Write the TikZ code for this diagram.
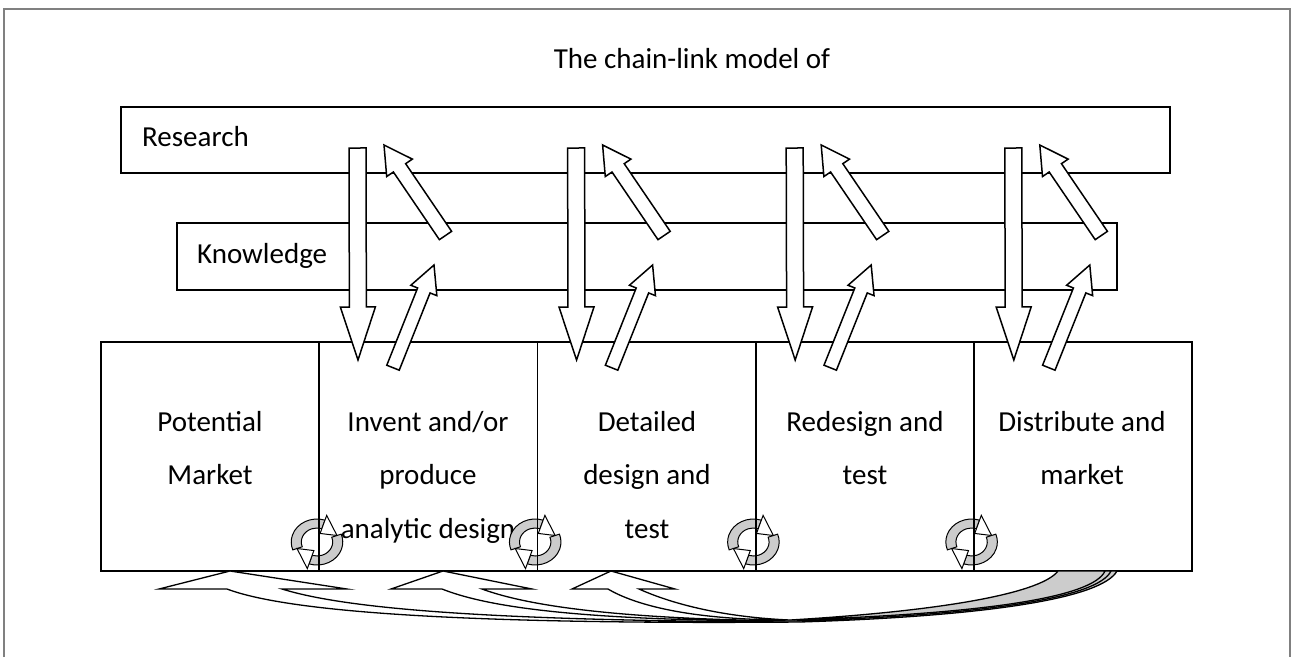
\documentclass[tikz,border=0pt]{standalone}
\usepackage{fontspec}
\setmainfont{Carlito}
\usetikzlibrary{calc}
\newcommand\blockarrow[5]{%
  \coordinate (bah) at ($(#2)!#5!(#1)$);
  \draw[barr] ($(#1)!#3!90:(#2)$) -- ($(bah)!#3!90:(#2)$) -- ($(bah)!#4!90:(#2)$) -- (#2) -- ($(bah)!#4!-90:(#2)$) -- ($(bah)!#3!-90:(#2)$) -- ($(#1)!#3!-90:(#2)$) -- cycle;}
\begin{document}
\begin{tikzpicture}[x=1pt,y=-1pt,
  box/.style={draw=black,line width=1.8pt,rectangle,inner sep=0pt,outer sep=0pt},
  lbl/.style={font=\fontsize{29}{34}\selectfont,inner sep=0pt},
  barr/.style={draw=black,fill=white,line width=1.5pt,line join=miter,miter limit=20},
  frame/.style={draw=black!50,line width=2pt},
  divline/.style={draw=black,line width=1.8pt},
  cycg/.style={draw=black,fill=black!20,line width=1pt},
  cych/.style={draw=black,fill=white,line width=1pt,line join=miter},
  cback/.style={draw=black,fill=black!20,line width=1.3pt},
  cfront/.style={draw=black,fill=white,line width=1.3pt,line join=miter,miter limit=20},
  cyc/.pic={
    \begin{scope}[xscale=1.12,yscale=1.0]
      \filldraw[cycg] (200:14pt) arc[start angle=200,end angle=72,radius=14pt] -- (72:23pt) arc[start angle=72,end angle=200,radius=23pt] -- cycle;
      \filldraw[cych] (72:9pt) -- (72:28pt) -- (20:19pt) -- cycle;
      \filldraw[cycg] (20:14pt) arc[start angle=20,end angle=-108,radius=14pt] -- (-108:23pt) arc[start angle=-108,end angle=20,radius=23pt] -- cycle;
      \filldraw[cych] (-108:9pt) -- (-108:28pt) -- (-160:19pt) -- cycle;
    \end{scope}
  }]
\useasboundingbox (0,0) rectangle (1291,657);
\draw[frame] (4,657) -- (4,9) -- (1290,9) -- (1290,657);
\node[lbl,anchor=base] (title) at (692,68) {The chain-link model of};
\node[box,anchor=north west,minimum width=1049pt,minimum height=66pt] (research) at (121,107) {};
\node[box,anchor=north west,minimum width=940pt,minimum height=67pt] (knowledge) at (177,223) {};
\node[lbl,anchor=base west] (tres) at (142,146) {Research};
\node[lbl,anchor=base west] (tkn) at (197,263) {Knowledge};
\foreach \i in {0,...,4}
  \node[box,anchor=north west,minimum width=218.2pt,minimum height=229pt] (b\i) at ({101+218.2*\i},342) {};
\node[lbl,anchor=base] (t1a) at (210,431) {Potential};
\node[lbl,anchor=base] (t1b) at (210,484) {Market};
\node[lbl,anchor=base] (t2a) at (428,431) {Invent and/or};
\node[lbl,anchor=base] (t2b) at (428,484) {produce};
\node[lbl,anchor=base] (t2c) at (428,538) {analytic design};
\node[lbl,anchor=base] (t3a) at (647,431) {Detailed};
\node[lbl,anchor=base] (t3b) at (647,484) {design and};
\node[lbl,anchor=base] (t3c) at (647,538) {test};
\node[lbl,anchor=base] (t4a) at (865,431) {Redesign and};
\node[lbl,anchor=base] (t4b) at (865,484) {test};
\node[lbl,anchor=base] (t5a) at (1082,431) {Distribute and};
\node[lbl,anchor=base] (t5b) at (1082,484) {market};
\foreach \k in {0,1,2,3}{
  \pgfmathsetmacro\sx{218.6*\k}
  \coordinate (dA\k) at ({357.5+\sx},148);
  \coordinate (dB\k) at ({358+\sx},360);
  \coordinate (ulA\k) at ({445.5+\sx},235.5);
  \coordinate (ulB\k) at ({384+\sx},145);
  \coordinate (urA\k) at ({393+\sx},367.7);
  \coordinate (urB\k) at ({434+\sx},265);
  \blockarrow{dA\k}{dB\k}{8.5pt}{17.5pt}{53pt}
  \blockarrow{ulA\k}{ulB\k}{7.4pt}{15.5pt}{27.6pt}
  \blockarrow{urA\k}{urB\k}{6.7pt}{14pt}{27.4pt}
}
\foreach \k in {0,1,2,3}
  \pic at ({317+218.2*\k},542) {cyc};
\foreach \i in {0,1,2,3}
  \draw[divline] (b\i.north east) -- (b\i.south east);
% curved feedback arrows: back (grey) parts
\draw[cback] (1066,571) .. controls (1050,593) and (965,612) .. (800,622) .. controls (990,616) and (1102,598) .. (1117,571) -- cycle;
\draw[cback] (1062,571) .. controls (1047,592) and (962,611) .. (795,621) .. controls (985,615) and (1098,598) .. (1111,571) -- cycle;
\draw[cback] (1058,571) .. controls (1043,591) and (958,610) .. (790,620) .. controls (980,614) and (1093,598) .. (1105,571) -- cycle;
% front parts
\draw[cfront] (230,571) -- (347,589) -- (282,589) .. controls (340,607) and (470,621) .. (800,622) .. controls (430,625) and (280,609) .. (227,589) -- (159,589) -- cycle;
\draw[cfront] (443,571) -- (532,589) -- (482,589) .. controls (520,603) and (600,619) .. (795,621) .. controls (560,621) and (480,604) .. (442,589) -- (391,589) -- cycle;
\draw[cfront] (611,571) -- (675,589) -- (639,589) .. controls (670,603) and (720,617) .. (790,620) .. controls (690,620) and (635,605) .. (608,589) -- (572,589) -- cycle;
\end{tikzpicture}
\end{document}
